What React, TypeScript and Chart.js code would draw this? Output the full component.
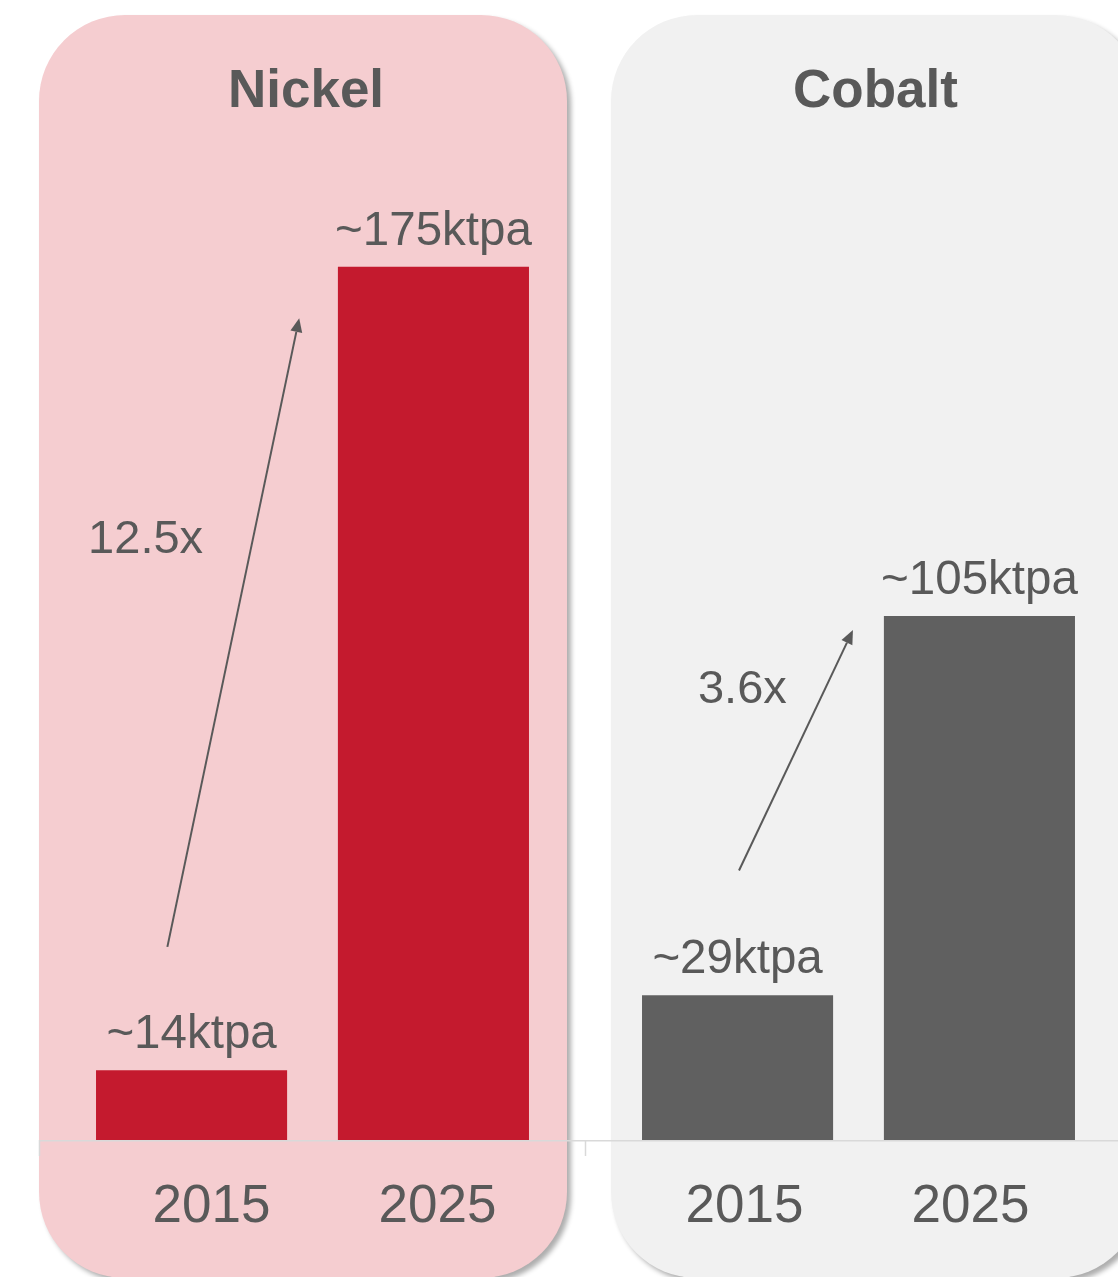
import React, { useEffect, useRef } from 'react';
import { Chart, registerables } from 'chart.js';

Chart.register(...registerables);

// ---- data ----
const metals = ['Nickel', 'Cobalt'];
const years = ['2015', '2025'];
const values2015 = [14, 29];
const values2025 = [175, 105];
const valueLabels2015 = ['~14ktpa', '~29ktpa'];
const valueLabels2025 = ['~175ktpa', '~105ktpa'];
const growthLabels = ['12.5x', '3.6x'];

// ---- styles ----
const barColors = ['#C41A2E', '#606060'];
const panelColors = ['#F5CDD0', '#F1F1F1'];
const textColor = '#595959';
const FONT = '"Liberation Sans", Arial, Helvetica, sans-serif';

// panel geometry relative to category boundaries
const panelInsets = [
  { l: -0.5, r: -18.5 },
  { l: 25.5, r: 10.5 },
];
const panelTop = 15;
const panelBottom = 1278;
const panelRadius = 86;
const titleShift = [3, -1];

// year label x offsets from bar centres [dataset][metal]
const yearLabelShift = [
  [20, 7],
  [4, -9],
];

// arrow / growth label placement: t = fraction between the two bar centres, v = value on y-scale
const arrowSpecs = [
  { start: { t: -0.1, v: 38.7 }, end: { t: 0.445, v: 164.7 } },
  { start: { t: 0.006, v: 54 }, end: { t: 0.477, v: 102.2 } },
];
const growthLabelPos = [
  { t: -0.19, v: 117.6 },
  { t: 0.02, v: 87.6 },
];

function roundRect(ctx: CanvasRenderingContext2D, x0: number, y0: number, x1: number, y1: number, r: number) {
  ctx.beginPath();
  ctx.moveTo(x0 + r, y0);
  ctx.lineTo(x1 - r, y0);
  ctx.arcTo(x1, y0, x1, y0 + r, r);
  ctx.lineTo(x1, y1 - r);
  ctx.arcTo(x1, y1, x1 - r, y1, r);
  ctx.lineTo(x0 + r, y1);
  ctx.arcTo(x0, y1, x0, y1 - r, r);
  ctx.lineTo(x0, y0 + r);
  ctx.arcTo(x0, y0, x0 + r, y0, r);
  ctx.closePath();
}

const decorPlugin = {
  id: 'decor',
  beforeDraw(chart: any) {
    const { ctx, chartArea } = chart;
    const xs = chart.scales.x;
    const mid = (xs.getPixelForValue(0) + xs.getPixelForValue(1)) / 2;
    const bounds = [chartArea.left, mid, chartArea.right];
    ctx.save();
    for (let i = 0; i < 2; i++) {
      const x0 = bounds[i] + panelInsets[i].l;
      const x1 = bounds[i + 1] + panelInsets[i].r;
      ctx.save();
      ctx.shadowColor = 'rgba(0,0,0,0.32)';
      ctx.shadowBlur = 5;
      ctx.shadowOffsetX = 4;
      ctx.shadowOffsetY = 4;
      ctx.fillStyle = panelColors[i];
      roundRect(ctx, x0, panelTop, x1, panelBottom, panelRadius);
      ctx.fill();
      ctx.restore();
      // title
      ctx.fillStyle = textColor;
      ctx.font = `bold 53px ${FONT}`;
      ctx.textAlign = 'center';
      ctx.textBaseline = 'alphabetic';
      ctx.fillText(metals[i], (x0 + x1) / 2 + titleShift[i], 107);
    }
    ctx.restore();
  },
  afterDatasetsDraw(chart: any) {
    const { ctx, chartArea } = chart;
    const xs = chart.scales.x;
    const ys = chart.scales.y;
    const mid = (xs.getPixelForValue(0) + xs.getPixelForValue(1)) / 2;
    const bounds = [chartArea.left, mid, chartArea.right];
    ctx.save();
    // baseline + ticks
    ctx.strokeStyle = '#D9D9D9';
    ctx.lineWidth = 1.5;
    ctx.beginPath();
    ctx.moveTo(bounds[0], chartArea.bottom + 0.75);
    ctx.lineTo(bounds[2] + 20, chartArea.bottom + 0.75);
    for (const b of bounds) {
      ctx.moveTo(b, chartArea.bottom);
      ctx.lineTo(b, chartArea.bottom + 16);
    }
    ctx.stroke();

    const m0 = chart.getDatasetMeta(0).data;
    const m1 = chart.getDatasetMeta(1).data;
    const labelsets = [valueLabels2015, valueLabels2025];
    const metas = [m0, m1];
    ctx.fillStyle = textColor;
    ctx.textAlign = 'center';
    ctx.textBaseline = 'alphabetic';
    for (let d = 0; d < 2; d++) {
      for (let i = 0; i < 2; i++) {
        const bar = metas[d][i];
        ctx.font = `47.5px ${FONT}`;
        ctx.fillText(labelsets[d][i], bar.x, bar.y - 22);
        ctx.font = `53px ${FONT}`;
        ctx.fillText(years[d], bar.x + yearLabelShift[d][i], 1222);
      }
    }
    // arrows and growth labels
    for (let i = 0; i < 2; i++) {
      const xa = m0[i].x;
      const xb = m1[i].x;
      const px = (t: number) => xa + t * (xb - xa);
      const s = arrowSpecs[i];
      const sx = px(s.start.t), sy = ys.getPixelForValue(s.start.v);
      const ex = px(s.end.t), ey = ys.getPixelForValue(s.end.v);
      const ang = Math.atan2(ey - sy, ex - sx);
      const headLen = 14, headW = 6;
      const bx = ex - headLen * Math.cos(ang), by = ey - headLen * Math.sin(ang);
      ctx.strokeStyle = textColor;
      ctx.lineWidth = 2;
      ctx.beginPath();
      ctx.moveTo(sx, sy);
      ctx.lineTo(bx, by);
      ctx.stroke();
      ctx.beginPath();
      ctx.moveTo(ex, ey);
      ctx.lineTo(bx + headW * Math.sin(ang), by - headW * Math.cos(ang));
      ctx.lineTo(bx - headW * Math.sin(ang), by + headW * Math.cos(ang));
      ctx.closePath();
      ctx.fillStyle = textColor;
      ctx.fill();
      const g = growthLabelPos[i];
      ctx.font = `47px ${FONT}`;
      ctx.fillText(growthLabels[i], px(g.t), ys.getPixelForValue(g.v));
    }
    ctx.restore();
  },
};

export default function App() {
  const ref = useRef<HTMLCanvasElement>(null);
  useEffect(() => {
    const chart = new Chart(ref.current as HTMLCanvasElement, {
      type: 'bar',
      data: {
        labels: metals,
        datasets: [
          { label: years[0], data: values2015, backgroundColor: barColors, borderWidth: 0 },
          { label: years[1], data: values2025, backgroundColor: barColors, borderWidth: 0 },
        ],
      },
      options: {
        responsive: false,
        animation: false,
        devicePixelRatio: 1,
        categoryPercentage: 0.886,
        barPercentage: 0.79,
        layout: { padding: { left: 39.5, right: 18.5, top: 142, bottom: 137 } },
        plugins: { legend: { display: false }, tooltip: { enabled: false }, title: { display: false } },
        scales: {
          x: { display: false },
          y: { display: false, min: 0, max: 200 },
        },
      } as any,
      plugins: [decorPlugin],
    });
    return () => chart.destroy();
  }, []);
  return (
    <div style={{ position: 'fixed', left: 0, top: 0, width: '100vw', height: '100vh', overflow: 'hidden', background: '#fff' }}>
      <canvas ref={ref} width={1150} height={1277} style={{ display: 'block', width: 1150, height: 1277 }} />
    </div>
  );
}
